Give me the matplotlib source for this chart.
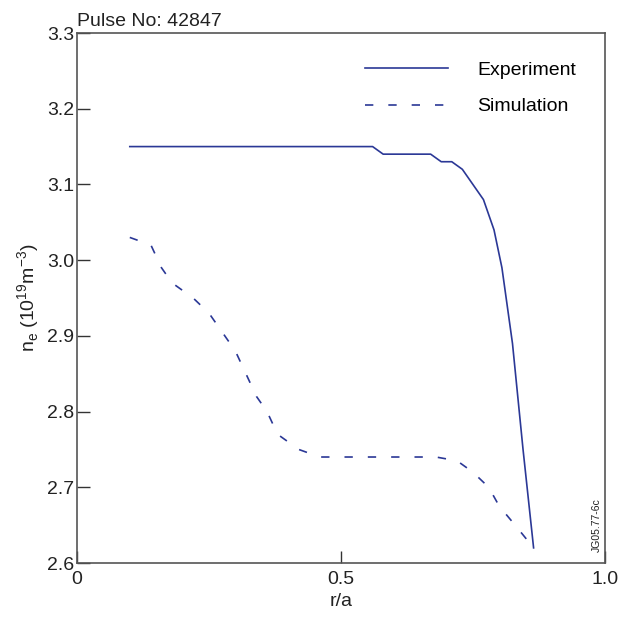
import matplotlib
matplotlib.use('Agg')
from matplotlib import pyplot as plt

plt.rcParams['font.family'] = ['Liberation Sans', 'DejaVu Sans']

# experiment profile
x_exp = [0.1, 0.56, 0.58, 0.67, 0.69, 0.71, 0.73, 0.75, 0.77, 0.79, 0.805, 0.825, 0.845, 0.865]
y_exp = [3.15, 3.15, 3.14, 3.14, 3.13, 3.13, 3.12, 3.10, 3.08, 3.04, 2.99, 2.89, 2.75, 2.62]

# simulation profile
x_sim = [0.1, 0.14, 0.16, 0.18, 0.22, 0.25, 0.28, 0.30, 0.32, 0.34, 0.36, 0.38, 0.42, 0.46,
         0.68, 0.72, 0.75, 0.78, 0.80, 0.83, 0.865]
y_sim = [3.03, 3.02, 2.99, 2.97, 2.95, 2.93, 2.90, 2.88, 2.85, 2.82, 2.80, 2.77, 2.75, 2.74,
         2.74, 2.735, 2.72, 2.70, 2.675, 2.65, 2.62]

xticks = [0, 0.5, 1.0]
xticklabels = ['0', '0.5', '1.0']
yticks = [2.6, 2.7, 2.8, 2.9, 3.0, 3.1, 3.2, 3.3]

col = '#2b3896'
fs = 14

fig = plt.figure(figsize=(6.21, 6.17), dpi=100)
ax = fig.add_axes([0.124, 0.0875, 0.850, 0.859])

ax.plot(x_exp, y_exp, color=col, lw=1.2, label='Experiment')
ax.plot(x_sim, y_sim, color=col, lw=1.2, dashes=(5, 9), label='Simulation')

ax.set_xlim(0, 1.0)
ax.set_ylim(2.6, 3.3)
ax.set_xticks(xticks)
ax.set_xticklabels(xticklabels)
ax.set_yticks(yticks)
ax.tick_params(direction='in', length=9, width=1, colors='#333333', labelsize=fs,
               top=False, right=False, labelcolor='#222222')
ax.tick_params(axis='x', pad=6)
ax.tick_params(axis='y', pad=2)
for s in ax.spines.values():
    s.set_color('#555555')
    s.set_linewidth(1.2)

ax.set_xlabel('r/a', fontsize=fs, color='#222222', labelpad=3)
ax.set_ylabel(r'n$_\mathregular{e}$ (10$^\mathregular{19}$m$^\mathregular{-3}$)', fontsize=fs,
              color='#222222', labelpad=4)

ax.text(0.0, 1.005, 'Pulse No: 42847', transform=ax.transAxes, fontsize=fs,
        color='#222222', ha='left', va='bottom')
ax.text(0.985, 0.02, 'JG05.77-6c', transform=ax.transAxes, fontsize=7.5,
        color='#222222', rotation=90, ha='center', va='bottom')

leg = ax.legend(loc='upper left', bbox_to_anchor=(0.545, 0.946), frameon=False, fontsize=fs,
                handlelength=4.3, handletextpad=1.5, labelspacing=0.95, borderpad=0,
                borderaxespad=0)

fig.savefig('out.png', dpi=100)
